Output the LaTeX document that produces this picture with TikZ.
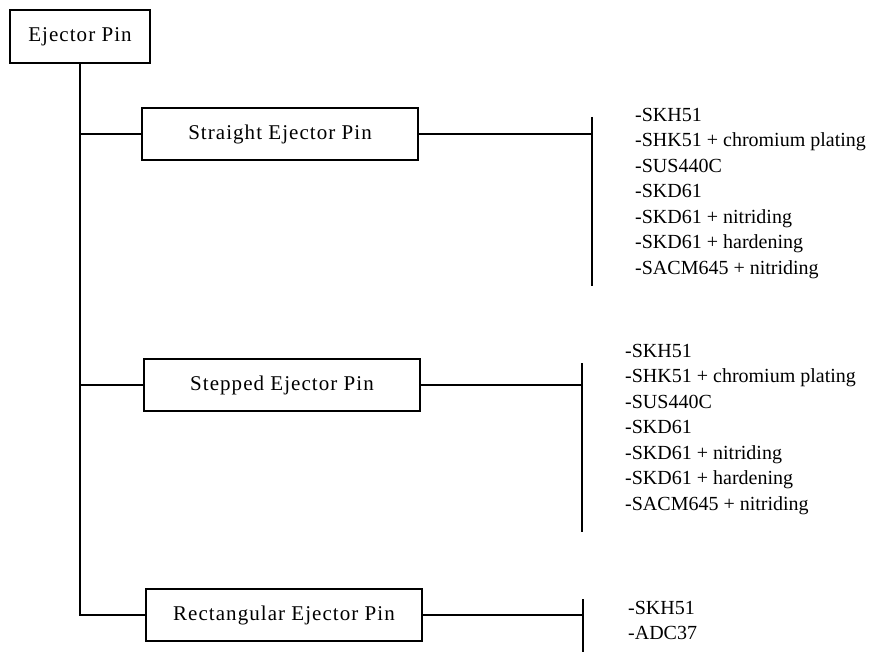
\documentclass[tikz,border=0pt]{standalone}
\usepackage{fontspec}
\setmainfont{Liberation Serif}
\newfontfamily\boxfont[LetterSpace=5]{Liberation Serif}
\usetikzlibrary{positioning}
\newcommand{\steellist}{-SKH51\\-SHK51 + chromium plating\\-SUS440C\\-SKD61\\
 -SKD61 + nitriding\\-SKD61 + hardening\\-SACM645 + nitriding}

\begin{document}
\begin{tikzpicture}[x=1pt,y=-1pt,
 box/.style={draw,line width=1.5pt,minimum width=276pt,minimum height=52pt,
 inner sep=0pt,font=\boxfont\fontsize{21}{24}\selectfont},
 list/.style={anchor=north west,align=left,inner sep=0pt,
 font=\fontsize{20}{25.5}\selectfont},
 ln/.style={draw,line width=1.5pt}]
\useasboundingbox (0,0) rectangle (878,652);
\node[box,minimum width=140pt,minimum height=53pt] (root) at (80,36.5) {Ejector Pin};
\node[box] (straight) at (280,134) {Straight Ejector Pin};
\node[box] (stepped) at (282,385) {Stepped Ejector Pin};
\node[box] (rect) at (284,615) {Rectangular Ejector Pin};
% trunk and branches
\draw[ln] (root.south) |- (rect.west);
\draw[ln] (straight.west -| root.south) -- (straight.west);
\draw[ln] (stepped.west -| root.south) -- (stepped.west);
% brackets
\coordinate (b1) at (592,117);\coordinate (b1end) at (592,286);
\coordinate (b2) at (582,363);\coordinate (b2end) at (582,532);
\coordinate (b3) at (583,599);\coordinate (b3end) at (583,652);
\draw[ln] (b1)--(b1end);\draw[ln] (b2)--(b2end);\draw[ln] (b3)--(b3end);
\draw[ln] (straight.east)--(straight.east -| b1);
\draw[ln] (stepped.east)--(stepped.east -| b2);
\draw[ln] (rect.east)--(rect.east -| b3);
% materials
\node[list] (mat1) at (635,108) {\steellist};
\node[list] (mat2) at (625,344) {\steellist};
\node[list] (mat3) at (628,601) {-SKH51\\-ADC37};
\end{tikzpicture}
\end{document}
